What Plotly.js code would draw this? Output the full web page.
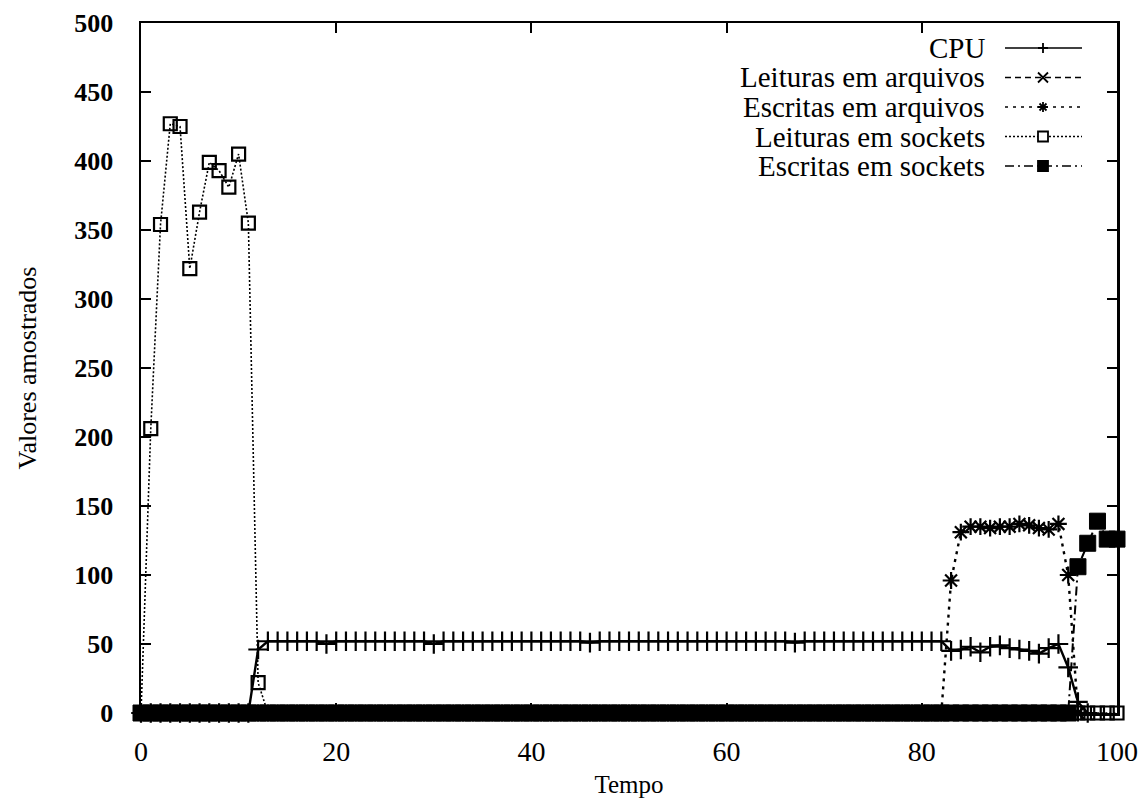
<!DOCTYPE html>
<html>
<head>
<meta charset="utf-8">
<script src="https://cdn.plot.ly/plotly-3.0.1.min.js"></script>
<style>
  html, body { margin: 0; padding: 0; background: #fff; }
  #chart { width: 1144px; height: 802px; }
</style>
</head>
<body>
<div id="chart"></div>
<script>
// Sampled values per time step (Tempo 0, 1, 2, ...)
const cpu = [
  0, 0, 0, 0, 0, 0, 0, 0, 0, 0, 0, 0, 46,
  52, 52, 52, 52, 52, 52, 50, 52, 52, 52,
  52, 52, 52, 52, 52, 52, 52, 50, 52, 52,
  52, 52, 52, 52, 52, 52, 52, 52, 52, 52,
  52, 52, 52, 51, 52, 52, 52, 52, 52, 52,
  52, 52, 52, 52, 52, 52, 52, 52, 52, 52,
  52, 52, 52, 52, 51, 52, 52, 52, 52, 52,
  52, 52, 52, 52, 52, 52, 52, 52, 52, 52,
  45, 46, 48, 44, 48, 49, 47, 46, 45, 43, 47, 50, 33, 8, 0
];
const leiturasArquivos = [
  0, 0, 0, 0, 0, 0, 0, 0, 0, 0, 0, 0, 0, 0, 0, 0, 0, 0, 0, 0,
  0, 0, 0, 0, 0, 0, 0, 0, 0, 0, 0, 0, 0, 0, 0, 0, 0, 0, 0, 0,
  0, 0, 0, 0, 0, 0, 0, 0, 0, 0, 0, 0, 0, 0, 0, 0, 0, 0, 0, 0,
  0, 0, 0, 0, 0, 0, 0, 0, 0, 0, 0, 0, 0, 0, 0, 0, 0, 0, 0, 0,
  0, 0, 0, 0, 0, 0, 0, 0, 0, 0, 0, 0, 0, 0, 0, 0, 0
];
const escritasArquivos = [
  0, 0, 0, 0, 0, 0, 0, 0, 0, 0, 0, 0, 0, 0, 0, 0, 0, 0, 0, 0,
  0, 0, 0, 0, 0, 0, 0, 0, 0, 0, 0, 0, 0, 0, 0, 0, 0, 0, 0, 0,
  0, 0, 0, 0, 0, 0, 0, 0, 0, 0, 0, 0, 0, 0, 0, 0, 0, 0, 0, 0,
  0, 0, 0, 0, 0, 0, 0, 0, 0, 0, 0, 0, 0, 0, 0, 0, 0, 0, 0, 0,
  0, 0, 0, 96, 131, 135, 135, 134, 135, 135, 137, 136, 134, 133, 137, 100, 0
];
const leiturasSockets = [
  0, 206, 354, 427, 425, 322, 363, 399, 393, 381, 405, 355, 22,
  0, 0, 0, 0, 0, 0, 0, 0, 0, 0, 0, 0, 0, 0, 0, 0, 0, 0, 0, 0,
  0, 0, 0, 0, 0, 0, 0, 0, 0, 0, 0, 0, 0, 0, 0, 0, 0, 0, 0, 0,
  0, 0, 0, 0, 0, 0, 0, 0, 0, 0, 0, 0, 0, 0, 0, 0, 0, 0, 0, 0,
  0, 0, 0, 0, 0, 0, 0, 0, 0, 0, 0, 0, 0, 0, 0, 0, 0, 0, 0, 0,
  0, 0, 0, 0, 0, 0, 0, 0
];
const escritasSockets = [
  0, 0, 0, 0, 0, 0, 0, 0, 0, 0, 0, 0, 0, 0, 0, 0, 0, 0, 0, 0,
  0, 0, 0, 0, 0, 0, 0, 0, 0, 0, 0, 0, 0, 0, 0, 0, 0, 0, 0, 0,
  0, 0, 0, 0, 0, 0, 0, 0, 0, 0, 0, 0, 0, 0, 0, 0, 0, 0, 0, 0,
  0, 0, 0, 0, 0, 0, 0, 0, 0, 0, 0, 0, 0, 0, 0, 0, 0, 0, 0, 0,
  0, 0, 0, 0, 0, 0, 0, 0, 0, 0, 0, 0, 0, 0, 0, 0,
  106, 123, 139, 126, 126
];

const seriesNames = [
  'CPU',
  'Leituras em arquivos',
  'Escritas em arquivos',
  'Leituras em sockets',
  'Escritas em sockets'
];
const xTicks = [0, 20, 40, 60, 80, 100];
const yTicks = [0, 50, 100, 150, 200, 250, 300, 350, 400, 450, 500];

// time steps are simply the sample index
const stepsFor = vals => vals.map((_, i) => i);

const styles = [
  { dash: 'solid',             lw: 2.4, symbol: 'cross-thin-open', size: 14, mlw: 2.2 },
  { dash: '6px,4px',           lw: 1.8, symbol: 'x-thin-open',     size: 12, mlw: 2.2 },
  { dash: '3px,5px',           lw: 2.4, symbol: 'asterisk-open',   size: 14, mlw: 2.2 },
  { dash: '2px,2px',           lw: 1.6, symbol: 'square-open',     size: 13, mlw: 2.2 },
  { dash: '9px,4px,2px,4px',   lw: 2.0, symbol: 'square',          size: 16, mlw: 1 }
];
const values = [cpu, leiturasArquivos, escritasArquivos, leiturasSockets, escritasSockets];

const traces = values.map((v, k) => ({
  type: 'scatter',
  mode: 'lines+markers',
  name: seriesNames[k],
  x: stepsFor(v),
  y: v,
  cliponaxis: false,
  line: { color: '#000', width: styles[k].lw, dash: styles[k].dash },
  marker: {
    symbol: styles[k].symbol,
    size: styles[k].size,
    color: '#000',
    line: { color: '#000', width: styles[k].mlw }
  },
  showlegend: false
}));

// gnuplot-style key: label on the left, line sample with marker on the right
const plotW = 1144 - 141 - 27, plotH = 802 - 23 - 89;
const px = p => p / plotW, py = p => p / plotH;
const keyTextX = px(987 - 141);
const keyLineX0 = px(1005 - 141), keyLineX1 = px(1082 - 141), keyMarkX = px(1043 - 141);
const keyRowY = k => 1 - py(48 + 29.5 * k - 23);

const annotations = [];
const shapes = [];
seriesNames.forEach((name, k) => {
  const yk = keyRowY(k);
  annotations.push({
    xref: 'paper', yref: 'paper', x: keyTextX, y: yk,
    xanchor: 'right', yanchor: 'middle', showarrow: false, text: name,
    font: { family: 'Liberation Serif, Times New Roman, serif', size: 29, color: '#000' }
  });
  shapes.push({
    type: 'line', xref: 'paper', yref: 'paper',
    x0: keyLineX0, x1: keyLineX1, y0: yk, y1: yk,
    line: { color: '#000', width: 1.6, dash: styles[k].dash }
  });
  const dx = px(5), dy = py(5);
  const cx = keyMarkX, cy = yk;
  let path = null, fill = 'rgba(0,0,0,0)';
  if (k === 0) {
    path = `M${cx - dx},${cy} L${cx + dx},${cy} M${cx},${cy - dy} L${cx},${cy + dy}`;
  } else if (k === 1) {
    path = `M${cx - dx},${cy - dy} L${cx + dx},${cy + dy} M${cx - dx},${cy + dy} L${cx + dx},${cy - dy}`;
  } else if (k === 2) {
    path = `M${cx - dx},${cy} L${cx + dx},${cy} M${cx},${cy - dy} L${cx},${cy + dy} ` +
           `M${cx - dx * 0.7},${cy - dy * 0.7} L${cx + dx * 0.7},${cy + dy * 0.7} ` +
           `M${cx - dx * 0.7},${cy + dy * 0.7} L${cx + dx * 0.7},${cy - dy * 0.7}`;
  } else {
    path = `M${cx - dx},${cy - dy} L${cx + dx},${cy - dy} L${cx + dx},${cy + dy} L${cx - dx},${cy + dy} Z`;
    fill = k === 4 ? '#000' : '#fff';
  }
  shapes.push({
    type: 'path', xref: 'paper', yref: 'paper', path: path,
    fillcolor: fill, line: { color: '#000', width: 1.8 }
  });
});

const serif = 'Liberation Serif, Times New Roman, serif';
const layout = {
  width: 1144,
  height: 802,
  margin: { l: 141, r: 27, t: 23, b: 89 },
  paper_bgcolor: '#fff',
  plot_bgcolor: '#fff',
  showlegend: false,
  xaxis: {
    range: [0, 100],
    tickvals: xTicks,
    ticktext: xTicks.map(String),
    ticks: 'inside', ticklen: 10, tickwidth: 2, tickcolor: '#000',
    showline: true, linecolor: '#000', linewidth: 2.5, mirror: 'allticks',
    showgrid: false, zeroline: false,
    ticklabelstandoff: 12,
    tickfont: { family: serif, size: 28, color: '#000' },
    title: { text: 'Tempo', standoff: 10, font: { family: serif, size: 25, color: '#000' } },
    automargin: false
  },
  yaxis: {
    range: [0, 500],
    tickvals: yTicks,
    ticktext: yTicks.map(String),
    ticks: 'inside', ticklen: 10, tickwidth: 2, tickcolor: '#000',
    showline: true, linecolor: '#000', linewidth: 2.5, mirror: 'allticks',
    showgrid: false, zeroline: false,
    ticklabelstandoff: 20,
    tickfont: { family: serif, size: 26, color: '#000', weight: 'bold' },
    title: { text: 'Valores amostrados', standoff: 30, font: { family: serif, size: 26, color: '#000' } },
    automargin: false
  },
  annotations: annotations,
  shapes: shapes
};

Plotly.newPlot('chart', traces, layout, { displayModeBar: false, staticPlot: true });
</script>
</body>
</html>
